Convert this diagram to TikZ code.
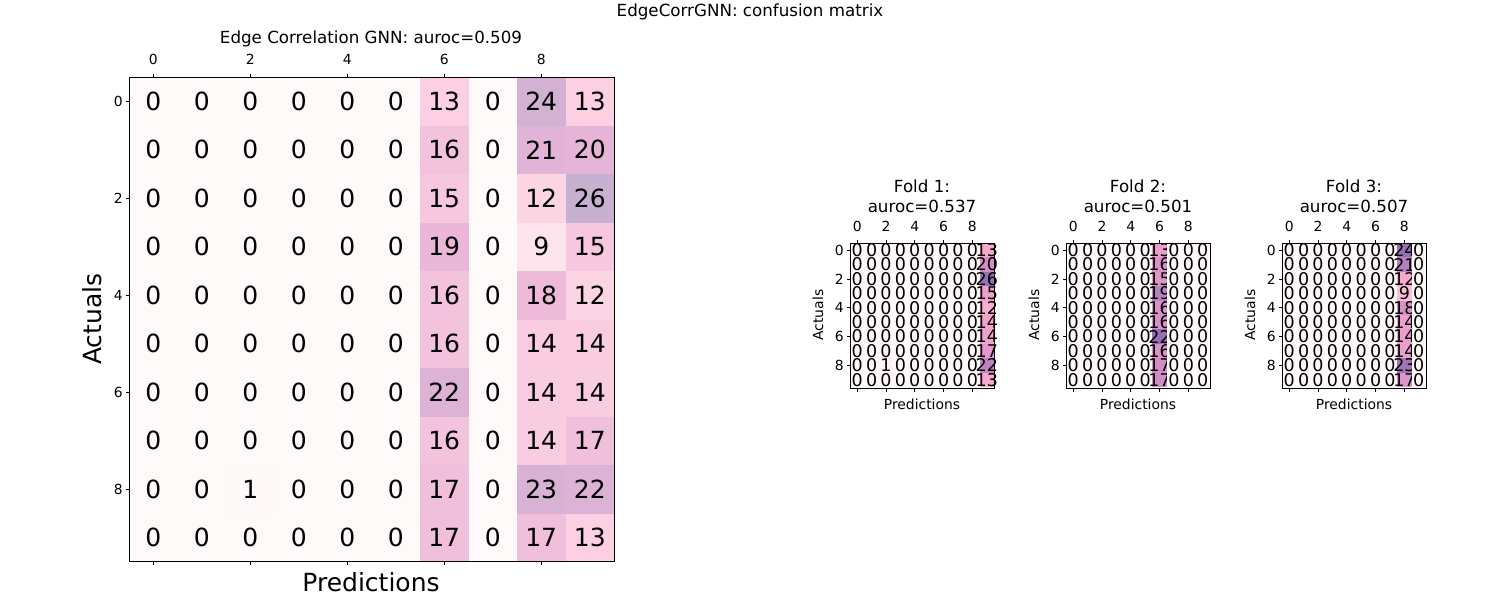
\documentclass[tikz,border=0pt]{standalone}
\usepackage{fontspec}
\setmainfont{DejaVu Sans}
\definecolor{m0}{HTML}{FFFAFA}\definecolor{m1}{HTML}{FDE4EC}\definecolor{m2}{HTML}{FCD0E2}\definecolor{m3}{HTML}{E8B4D8}\definecolor{m4}{HTML}{C8B0D0}
\definecolor{s0}{HTML}{FFF8F8}\definecolor{s1}{HTML}{FBC4D8}\definecolor{s2}{HTML}{F4A8CC}\definecolor{s3}{HTML}{D890C8}\definecolor{s4}{HTML}{9470B0}
\newcommand\setcc[2]{%
  \pgfmathsetmacro\tv{#1}%
  \pgfmathtruncatemacro\seg{\tv<0.35?0:(\tv<0.5?1:(\tv<0.75?2:3))}%
  \pgfmathtruncatemacro\segn{\seg+1}%
  \pgfmathsetmacro\lo{{0,0.35,0.5,0.75,1}[\seg]}%
  \pgfmathsetmacro\hi{{0,0.35,0.5,0.75,1}[\segn]}%
  \pgfmathsetmacro\pc{(\tv-\lo)/(\hi-\lo)*100}%
  \colorlet{cc}{#2\segn!\pc!#2\seg}}
\newcommand\fsz[1]{\fontsize{#1}{#1}\selectfont}
\tikzset{tick/.style={line width=0.8pt}, lbl/.style={inner sep=0pt}}
\newcommand\fold[5]{% x0, title, auroc, data, max
  \begin{scope}[shift={(#1,243)}]
  \foreach \row [count=\r from 0] in {#4} {
    \foreach \v [count=\c from 0] in \row {
      \setcc{\v/#5}{s}
      \fill[cc] (\c*14.4,\r*14.4) rectangle ++(14.4,14.4);
      \node[lbl,font=\fsz{17.5}] at (\c*14.4+7.2,\r*14.4+7.2) {\v};
    }}
  \draw[line width=0.8pt] (0,0) rectangle (144,145);
  \foreach \k in {0,2,4,6,8} {
    \draw[tick] (\k*14.4+7.2,0) -- ++(0,-3.5);
    \draw[tick] (\k*14.4+7.2,145) -- ++(0,3.5);
    \node[lbl,font=\fsz{13.9}] at (\k*14.4+7.2,-17) {\k};
    \draw[tick] (0,\k*14.4+7.2) -- ++(-3.5,0);
    \node[lbl,font=\fsz{13.9},anchor=east] at (-6,\k*14.4+7.2) {\k};
  }
  \node[lbl,font=\fsz{16.7}] at (72,-57) {#2};
  \node[lbl,font=\fsz{16.7}] at (72,-37) {#3};
  \node[lbl,font=\fsz{13.9},rotate=90] at (-32,72) {Actuals};
  \node[lbl,font=\fsz{13.9}] at (72,161) {Predictions};
  \end{scope}}
\begin{document}
\begin{tikzpicture}[x=1pt,y=-1pt]
\useasboundingbox (0,0) rectangle (1500,600);
\fill[white] (0,0) rectangle (1500,600);
\node[lbl,font=\fsz{16.7}] (sup) at (750,12) {EdgeCorrGNN: confusion matrix};
% main matrix
\foreach \row [count=\r from 0] in {
 {0,0,0,0,0,0,13,0,24,13},{0,0,0,0,0,0,16,0,21,20},{0,0,0,0,0,0,15,0,12,26},
 {0,0,0,0,0,0,19,0,9,15},{0,0,0,0,0,0,16,0,18,12},{0,0,0,0,0,0,16,0,14,14},
 {0,0,0,0,0,0,22,0,14,14},{0,0,0,0,0,0,16,0,14,17},{0,0,1,0,0,0,17,0,23,22},
 {0,0,0,0,0,0,17,0,17,13}} {
  \foreach \v [count=\c from 0] in \row {
    \setcc{\v/26}{m}
    \fill[cc] (129+\c*48.5,77+\r*48.5) rectangle ++(48.5,48.5);
    \node[lbl,font=\fsz{25}] at (129+\c*48.5+24.25,77+\r*48.5+24.25) {\v};
  }}
\draw[line width=0.8pt] (129,77) rectangle (614,561);
\foreach \k in {0,2,4,6,8} {
  \draw[tick] (153.25+\k*48.5,77) -- ++(0,-3.5);
  \draw[tick] (153.25+\k*48.5,561) -- ++(0,3.5);
  \node[lbl,font=\fsz{13.9}] at (153.25+\k*48.5,59) {\k};
  \draw[tick] (129,101.25+\k*48.5) -- ++(-3.5,0);
  \node[lbl,font=\fsz{13.9},anchor=east] at (123,101.25+\k*48.5) {\k};
}
\node[lbl,font=\fsz{16.7}] at (371,39) {Edge Correlation GNN: auroc=0.509};
\node[lbl,font=\fsz{25},rotate=90] at (92,319) {Actuals};
\node[lbl,font=\fsz{25}] at (371,582) {Predictions};
% folds
\fold{850}{Fold 1:}{auroc=0.537}{
 {0,0,0,0,0,0,0,0,0,13},{0,0,0,0,0,0,0,0,0,20},{0,0,0,0,0,0,0,0,0,26},
 {0,0,0,0,0,0,0,0,0,15},{0,0,0,0,0,0,0,0,0,12},{0,0,0,0,0,0,0,0,0,14},
 {0,0,0,0,0,0,0,0,0,14},{0,0,0,0,0,0,0,0,0,17},{0,0,1,0,0,0,0,0,0,22},
 {0,0,0,0,0,0,0,0,0,13}}{26}
\fold{1066}{Fold 2:}{auroc=0.501}{
 {0,0,0,0,0,0,13,0,0,0},{0,0,0,0,0,0,16,0,0,0},{0,0,0,0,0,0,15,0,0,0},
 {0,0,0,0,0,0,19,0,0,0},{0,0,0,0,0,0,16,0,0,0},{0,0,0,0,0,0,16,0,0,0},
 {0,0,0,0,0,0,22,0,0,0},{0,0,0,0,0,0,16,0,0,0},{0,0,0,0,0,0,17,0,0,0},
 {0,0,0,0,0,0,17,0,0,0}}{22}
\fold{1282}{Fold 3:}{auroc=0.507}{
 {0,0,0,0,0,0,0,0,24,0},{0,0,0,0,0,0,0,0,21,0},{0,0,0,0,0,0,0,0,12,0},
 {0,0,0,0,0,0,0,0,9,0},{0,0,0,0,0,0,0,0,18,0},{0,0,0,0,0,0,0,0,14,0},
 {0,0,0,0,0,0,0,0,14,0},{0,0,0,0,0,0,0,0,14,0},{0,0,0,0,0,0,0,0,23,0},
 {0,0,0,0,0,0,0,0,17,0}}{24}
\end{tikzpicture}
\end{document}
